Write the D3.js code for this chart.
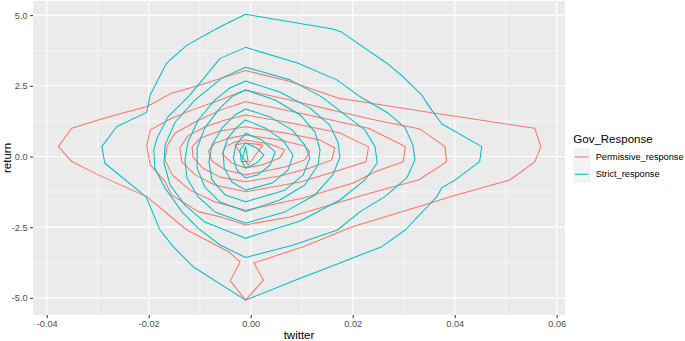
<!DOCTYPE html>
<html><head><meta charset="utf-8">
<script src="https://cdn.jsdelivr.net/npm/d3@7"></script>
<style>body{margin:0;background:#fff}</style>
</head><body>
<svg id="chart" width="685" height="341"></svg>
<script>
// ---- data (twitter, return) ----
const xTicks = [-0.04, -0.02, 0, 0.02, 0.04, 0.06];
const xTickLabels = ["-0.04", "-0.02", "0.00", "0.02", "0.04", "0.06"];
const xMinor = [-0.03, -0.01, 0.01, 0.03, 0.05];
const yTicks = [-5, -2.5, 0, 2.5, 5];
const yTickLabels = ["-5.0", "-2.5", "0.0", "2.5", "5.0"];
const yMinor = [-3.75, -1.25, 1.25, 3.75];
const seriesNames = ["Permissive_response", "Strict_response"];
const seriesColors = ["#F8766D", "#00BFC4"];

// Permissive_response contours (outer -> inner)
const permissive1 = [[-0.0377,0.35],[-0.0351,1.00],[-0.0299,1.29],[-0.0253,1.53],[-0.0204,1.76],[-0.0155,2.24],[-0.0099,2.53],[-0.0010,3.04],[0.0077,2.65],[0.0171,2.07],[0.0361,1.53],[0.0557,1.00],[0.0569,0.35],[0.0557,-0.19],[0.0508,-0.83],[0.0391,-1.42],[0.0345,-1.69],[0.0201,-2.48],[0.0103,-3.19],[0.0006,-3.77],[0.0025,-4.37],[-0.0010,-5.08],[-0.0040,-4.40],[-0.0021,-3.73],[-0.0043,-3.37],[-0.0125,-2.60],[-0.0204,-1.42],[-0.0299,-0.65],[-0.0351,-0.18]];
const permissive2 = [[-0.0010,2.35],[0.0077,2.00],[0.0175,1.57],[0.0244,1.29],[0.0332,0.97],[0.0381,0.35],[0.0384,-0.19],[0.0329,-0.83],[0.0244,-1.25],[0.0155,-1.72],[0.0077,-2.14],[-0.0010,-2.42],[-0.0060,-2.13],[-0.0103,-1.95],[-0.0155,-1.36],[-0.0168,-0.89],[-0.0197,-0.30],[-0.0204,0.37],[-0.0197,0.94],[-0.0155,1.35],[-0.0116,1.64],[-0.0060,2.00]];
const permissive3 = [[-0.0010,1.94],[0.0097,1.53],[0.0231,1.00],[0.0303,0.35],[0.0299,-0.19],[0.0244,-0.54],[0.0201,-0.94],[0.0103,-1.47],[-0.0010,-1.90],[-0.0070,-1.61],[-0.0119,-1.19],[-0.0154,-0.65],[-0.0168,-0.12],[-0.0164,0.37],[-0.0148,0.83],[-0.0109,1.22],[-0.0060,1.64]];
const permissive4 = [[-0.0010,1.47],[0.0077,1.19],[0.0175,0.83],[0.0231,0.34],[0.0226,-0.19],[0.0175,-0.48],[0.0097,-0.90],[-0.0010,-1.25],[-0.0070,-1.01],[-0.0109,-0.65],[-0.0135,-0.19],[-0.0139,0.30],[-0.0123,0.73],[-0.0090,1.04],[-0.0050,1.29]];
const permissive5 = [[-0.0010,1.05],[0.0067,0.83],[0.0136,0.58],[0.0165,0.30],[0.0159,-0.12],[0.0116,-0.41],[0.0057,-0.69],[-0.0010,-0.89],[-0.0060,-0.73],[-0.0094,-0.41],[-0.0113,-0.02],[-0.0115,0.34],[-0.0099,0.65],[-0.0060,0.90]];
const permissive6 = [[-0.0010,0.76],[0.0057,0.58],[0.0106,0.37],[0.0116,0.16],[0.0106,-0.12],[0.0067,-0.37],[-0.0010,-0.65],[-0.0050,-0.48],[-0.0076,-0.16],[-0.0083,0.19],[-0.0070,0.48],[-0.0041,0.65]];
const permissive7 = [[-0.0010,0.58],[0.0038,0.44],[0.0067,0.23],[0.0057,-0.05],[0.0022,-0.30],[-0.0010,-0.41],[-0.0037,-0.23],[-0.0056,0.09],[-0.0050,0.34],[-0.0031,0.51]];
const permissive8 = [[-0.0031,0.41],[-0.0010,0.48],[0.0024,0.41],[-0.0005,-0.30]];

// Strict_response contours (outer -> inner)
const strict1 = [[-0.0010,5.03],[0.0161,4.51],[0.0178,4.40],[0.0267,3.30],[0.0299,2.82],[0.0335,2.18],[0.0355,1.64],[0.0375,1.15],[0.0453,0.35],[0.0449,-0.18],[0.0401,-0.83],[0.0375,-1.10],[0.0365,-1.42],[0.0303,-2.60],[0.0257,-3.19],[0.0170,-3.80],[0.0097,-4.31],[-0.0010,-5.08],[-0.0113,-3.90],[-0.0152,-3.19],[-0.0178,-2.60],[-0.0205,-1.43],[-0.0286,-0.24],[-0.0292,0.35],[-0.0263,1.05],[-0.0204,1.56],[-0.0197,2.18],[-0.0165,3.30],[-0.0125,3.94],[-0.0060,4.59]];
const strict2 = [[-0.0010,3.86],[0.0093,3.30],[0.0169,2.71],[0.0214,2.12],[0.0269,1.54],[0.0303,1.01],[0.0318,0.41],[0.0322,-0.12],[0.0306,-0.76],[0.0263,-1.42],[0.0214,-1.96],[0.0170,-2.60],[0.0084,-3.13],[-0.0010,-3.57],[-0.0060,-3.13],[-0.0103,-2.54],[-0.0135,-1.95],[-0.0168,-1.12],[-0.0188,-0.42],[-0.0190,0.23],[-0.0184,0.64],[-0.0162,1.41],[-0.0119,2.18],[-0.0060,3.47]];
const strict3 = [[-0.0010,3.16],[0.0077,2.71],[0.0140,2.10],[0.0185,1.47],[0.0224,0.94],[0.0244,0.34],[0.0248,-0.23],[0.0224,-0.83],[0.0175,-1.54],[0.0097,-2.28],[-0.0010,-2.89],[-0.0090,-2.32],[-0.0129,-1.72],[-0.0158,-1.01],[-0.0170,-0.23],[-0.0168,0.41],[-0.0148,1.22],[-0.0109,2.00],[-0.0056,2.78]];
const strict4 = [[-0.0010,2.67],[0.0057,2.28],[0.0116,1.72],[0.0155,1.11],[0.0171,0.51],[0.0175,-0.02],[0.0161,-0.65],[0.0126,-1.36],[0.0067,-1.96],[-0.0010,-2.36],[-0.0070,-1.96],[-0.0103,-1.43],[-0.0125,-0.76],[-0.0129,-0.12],[-0.0123,0.51],[-0.0103,1.29],[-0.0070,2.00],[-0.0041,2.42]];
const strict5 = [[-0.0010,2.35],[0.0048,2.00],[0.0097,1.47],[0.0126,0.87],[0.0136,0.23],[0.0132,-0.30],[0.0106,-1.01],[0.0057,-1.54],[-0.0010,-1.95],[-0.0060,-1.61],[-0.0090,-1.08],[-0.0105,-0.41],[-0.0105,0.30],[-0.0090,1.01],[-0.0060,1.72],[-0.0035,2.14]];
const strict6 = [[-0.0010,1.68],[0.0038,1.40],[0.0081,0.94],[0.0106,0.41],[0.0116,-0.05],[0.0103,-0.65],[0.0067,-1.19],[-0.0010,-1.60],[-0.0050,-1.36],[-0.0076,-0.83],[-0.0082,-0.19],[-0.0076,0.41],[-0.0056,1.01],[-0.0031,1.47]];
const strict7 = [[-0.0010,1.29],[0.0028,1.01],[0.0063,0.58],[0.0083,0.05],[0.0073,-0.48],[0.0042,-0.94],[-0.0010,-1.19],[-0.0037,-0.90],[-0.0052,-0.41],[-0.0054,0.16],[-0.0045,0.65],[-0.0027,1.04]];
const strict8 = [[-0.0010,0.82],[0.0022,0.58],[0.0048,0.16],[0.0038,-0.30],[0.0014,-0.65],[-0.0010,-0.76],[-0.0027,-0.48],[-0.0034,-0.05],[-0.0029,0.41]];
const strict9 = [[-0.0010,0.48],[0.0012,0.30],[0.0026,0.05],[0.0012,-0.23],[-0.0010,-0.41],[-0.0019,-0.12],[-0.0021,0.23]];
const strict10 = [[-0.0010,0.35],[-0.0005,-0.18],[-0.0018,-0.18]];

const permissiveContours = [permissive1, permissive2, permissive3, permissive4, permissive5, permissive6, permissive7, permissive8];
const strictContours = [strict1, strict2, strict3, strict4, strict5, strict6, strict7, strict8, strict9, strict10];

// ---- layout ----
const svg = d3.select("#chart");
const W = 685, H = 341;
const panel = {left: 33, right: 565, top: 1, bottom: 315};
const xDomain = [-0.04269, 0.06163];
const yDomain = [-5.607, 5.50];
const x = d3.scaleLinear().domain(xDomain).range([panel.left, panel.right]);
const y = d3.scaleLinear().domain(yDomain).range([panel.bottom, panel.top]);
const font = "'Liberation Sans', Arial, sans-serif";

svg.append("rect").attr("x",0).attr("y",0).attr("width",W).attr("height",H).attr("fill","#fff");
svg.append("rect").attr("x",panel.left).attr("y",panel.top)
  .attr("width",panel.right-panel.left).attr("height",panel.bottom-panel.top).attr("fill","#EBEBEB");

const grid = svg.append("g");
grid.selectAll(".xmin").data(xMinor).join("line")
  .attr("x1",d=>x(d)).attr("x2",d=>x(d)).attr("y1",panel.top).attr("y2",panel.bottom)
  .attr("stroke","#fff").attr("stroke-width",0.55);
grid.selectAll(".ymin").data(yMinor).join("line")
  .attr("y1",d=>y(d)).attr("y2",d=>y(d)).attr("x1",panel.left).attr("x2",panel.right)
  .attr("stroke","#fff").attr("stroke-width",0.55);
grid.selectAll(".xmaj").data(xTicks).join("line")
  .attr("x1",d=>x(d)).attr("x2",d=>x(d)).attr("y1",panel.top).attr("y2",panel.bottom)
  .attr("stroke","#fff").attr("stroke-width",1.1);
grid.selectAll(".ymaj").data(yTicks).join("line")
  .attr("y1",d=>y(d)).attr("y2",d=>y(d)).attr("x1",panel.left).attr("x2",panel.right)
  .attr("stroke","#fff").attr("stroke-width",1.1);

// contours
const line = d3.line().x(d=>x(d[0])).y(d=>y(d[1])).curve(d3.curveLinearClosed);
svg.append("clipPath").attr("id","pclip").append("rect")
  .attr("x",panel.left).attr("y",panel.top).attr("width",panel.right-panel.left).attr("height",panel.bottom-panel.top);
const cg = svg.append("g").attr("clip-path","url(#pclip)");
[permissiveContours, strictContours].forEach((set,i)=>{
  cg.append("g").selectAll("path").data(set).join("path")
    .attr("d",line).attr("fill","none").attr("stroke",seriesColors[i])
    .attr("stroke-width",1.05).attr("stroke-linejoin","round");
});

// axes
const xAxis = d3.axisBottom(x).tickValues(xTicks).tickFormat((d,i)=>xTickLabels[i]).tickSize(2.9).tickPadding(2.5);
const yAxis = d3.axisLeft(y).tickValues(yTicks).tickFormat((d,i)=>yTickLabels[i]).tickSize(2.9).tickPadding(2.5);
const gx = svg.append("g").attr("transform",`translate(0,${panel.bottom})`).call(xAxis);
const gy = svg.append("g").attr("transform",`translate(${panel.left},0)`).call(yAxis);
[gx,gy].forEach(g=>{
  g.select(".domain").remove();
  g.selectAll(".tick line").attr("stroke","#333333").attr("stroke-width",1.05);
  g.selectAll(".tick text").attr("fill","#4D4D4D").style("font-family",font).style("font-size","9.2px");
});

svg.append("text").attr("x",(panel.left+panel.right)/2).attr("y",338.5)
  .attr("text-anchor","middle").style("font-family",font).style("font-size","11.5px").attr("fill","#000").text("twitter");
svg.append("text").attr("transform",`translate(10.5,${(panel.top+panel.bottom)/2}) rotate(-90)`)
  .attr("text-anchor","middle").style("font-family",font).style("font-size","11.5px").attr("fill","#000").text("return");

// legend
const lg = svg.append("g");
lg.append("text").attr("x",573.3).attr("y",143).style("font-family",font).style("font-size","11.5px").attr("fill","#000").text("Gov_Response");
seriesNames.forEach((n,i)=>{
  const ky = 148.3 + i*17.3;
  lg.append("rect").attr("x",573.3).attr("y",ky).attr("width",17.3).attr("height",17.3).attr("fill","#F2F2F2");
  lg.append("line").attr("x1",575).attr("x2",588.6).attr("y1",ky+8.65).attr("y2",ky+8.65)
    .attr("stroke",seriesColors[i]).attr("stroke-width",1.05);
  lg.append("text").attr("x",595.7).attr("y",ky+8.65).attr("dy","0.35em")
    .style("font-family",font).style("font-size","9.2px").attr("fill","#000").text(n);
});
</script>
</body></html>
